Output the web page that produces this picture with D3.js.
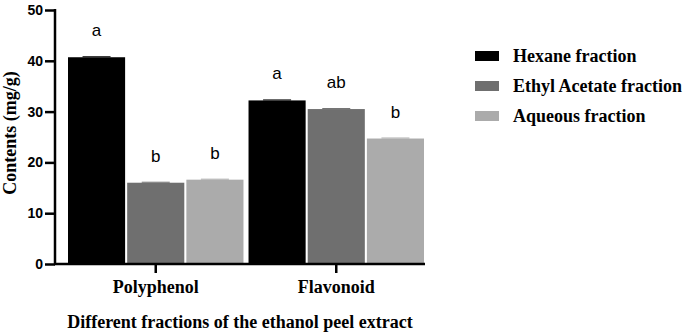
<!DOCTYPE html>
<html>
<head>
<meta charset="utf-8">
<script src="https://cdn.jsdelivr.net/npm/d3@7"></script>
<style>
  body { margin: 0; background: #fff; }
  .tick text { font-family: "Liberation Sans", Arial, sans-serif; font-weight: bold; font-size: 14px; }
</style>
</head>
<body>
<div id="chart"></div>
<script>
// data
var categories = ["Polyphenol", "Flavonoid"];
var series = ["Hexane fraction", "Ethyl Acetate fraction", "Aqueous fraction"];
var hexane = [40.7, 32.2];
var ethyl = [16.0, 30.5];
var aqueous = [16.6, 24.7];
var letters = [["a", "b", "b"], ["a", "ab", "b"]];
var yTicks = [0, 10, 20, 30, 40, 50];

var colors = ["#000000", "#6f6f6f", "#ababab"];
var values = [hexane, ethyl, aqueous];

var width = 685, height = 334;
var svg = d3.select("#chart").append("svg")
    .attr("width", width)
    .attr("height", height);

var x0 = 55, x1 = 425, yTop = 10, yBottom = 264;
var serif = "'Liberation Serif', 'Times New Roman', serif";

var yScale = d3.scaleLinear().domain([0, 50]).range([yBottom, yTop]);
var xScale = d3.scaleBand().domain(categories).range([68, x1 - 1]).paddingInner(0.028).paddingOuter(0);
var xSub = d3.scaleBand().domain(series).range([0, xScale.bandwidth()]).paddingInner(0.035);

function rows(d, i) {
    return series.map(function(s, j) { return {s: s, j: j, v: values[j][i], l: letters[i][j]}; });
}

// bars
var groups = svg.selectAll("g.grp")
    .data(categories)
    .enter().append("g")
    .attr("transform", function(d) { return "translate(" + xScale(d) + ",0)"; });

groups.selectAll("rect")
    .data(rows)
    .enter().append("rect")
    .attr("x", function(d) { return xSub(d.s); })
    .attr("y", function(d) { return yScale(d.v); })
    .attr("width", xSub.bandwidth())
    .attr("height", function(d) { return yBottom - yScale(d.v); })
    .attr("fill", function(d) { return colors[d.j]; });

// small error caps
groups.selectAll("line.cap")
    .data(rows)
    .enter().append("line")
    .attr("x1", function(d) { return xSub(d.s) + xSub.bandwidth() / 2 - 14; })
    .attr("x2", function(d) { return xSub(d.s) + xSub.bandwidth() / 2 + 14; })
    .attr("y1", function(d) { return yScale(d.v) - 0.5; })
    .attr("y2", function(d) { return yScale(d.v) - 0.5; })
    .attr("stroke", function(d) { return colors[d.j]; })
    .attr("stroke-width", 1);

// significance letters
groups.selectAll("text")
    .data(rows)
    .enter().append("text")
    .attr("x", function(d) { return xSub(d.s) + xSub.bandwidth() / 2; })
    .attr("y", function(d) { return yScale(d.v) - 21; })
    .attr("text-anchor", "middle")
    .style("font-family", "'Liberation Sans', Arial, sans-serif")
    .style("font-size", "17px")
    .text(function(d) { return d.l; });

// y axis
var yAxis = svg.append("g")
    .attr("transform", "translate(" + x0 + ",0)")
    .call(d3.axisLeft(yScale).tickValues(yTicks).tickSize(10).tickPadding(2));
yAxis.selectAll("line").attr("stroke", "#000").attr("stroke-width", 2.5);
yAxis.select(".domain").remove();
yAxis.append("line")
    .attr("x1", 0).attr("x2", 0)
    .attr("y1", yTop - 1).attr("y2", yBottom + 1)
    .attr("stroke", "#000").attr("stroke-width", 2.5);
yAxis.selectAll("text").attr("fill", "#000");

// x axis
svg.append("line")
    .attr("x1", x0 - 1).attr("x2", x1)
    .attr("y1", yBottom).attr("y2", yBottom)
    .attr("stroke", "#000").attr("stroke-width", 2.5);

svg.selectAll("line.xtick")
    .data(categories)
    .enter().append("line")
    .attr("x1", function(d) { return xScale(d) + xScale.bandwidth() / 2; })
    .attr("x2", function(d) { return xScale(d) + xScale.bandwidth() / 2; })
    .attr("y1", yBottom).attr("y2", yBottom + 9)
    .attr("stroke", "#000").attr("stroke-width", 2.5);

svg.selectAll("text.xlab")
    .data(categories)
    .enter().append("text")
    .attr("x", function(d) { return xScale(d) + xScale.bandwidth() / 2; })
    .attr("y", 293)
    .attr("text-anchor", "middle")
    .style("font-family", serif)
    .style("font-weight", "bold")
    .style("font-size", "18px")
    .text(function(d) { return d; });

// axis titles
svg.append("text")
    .attr("x", 240)
    .attr("y", 328)
    .attr("text-anchor", "middle")
    .style("font-family", serif)
    .style("font-weight", "bold")
    .style("font-size", "18px")
    .text("Different fractions of the ethanol peel extract");

svg.append("text")
    .attr("transform", "translate(16,133) rotate(-90)")
    .attr("text-anchor", "middle")
    .style("font-family", serif)
    .style("font-weight", "bold")
    .style("font-size", "18px")
    .text("Contents (mg/g)");

// legend
var legend = svg.selectAll("g.legend")
    .data(series)
    .enter().append("g")
    .attr("transform", function(d, i) { return "translate(475," + (56 + i * 30) + ")"; });

legend.append("rect")
    .attr("x", 0).attr("y", -5)
    .attr("width", 24).attr("height", 10)
    .attr("fill", function(d, i) { return colors[i]; });

legend.append("text")
    .attr("x", 38)
    .attr("y", 6)
    .style("font-family", serif)
    .style("font-weight", "bold")
    .style("font-size", "18px")
    .text(function(d) { return d; });
</script>
</body>
</html>
